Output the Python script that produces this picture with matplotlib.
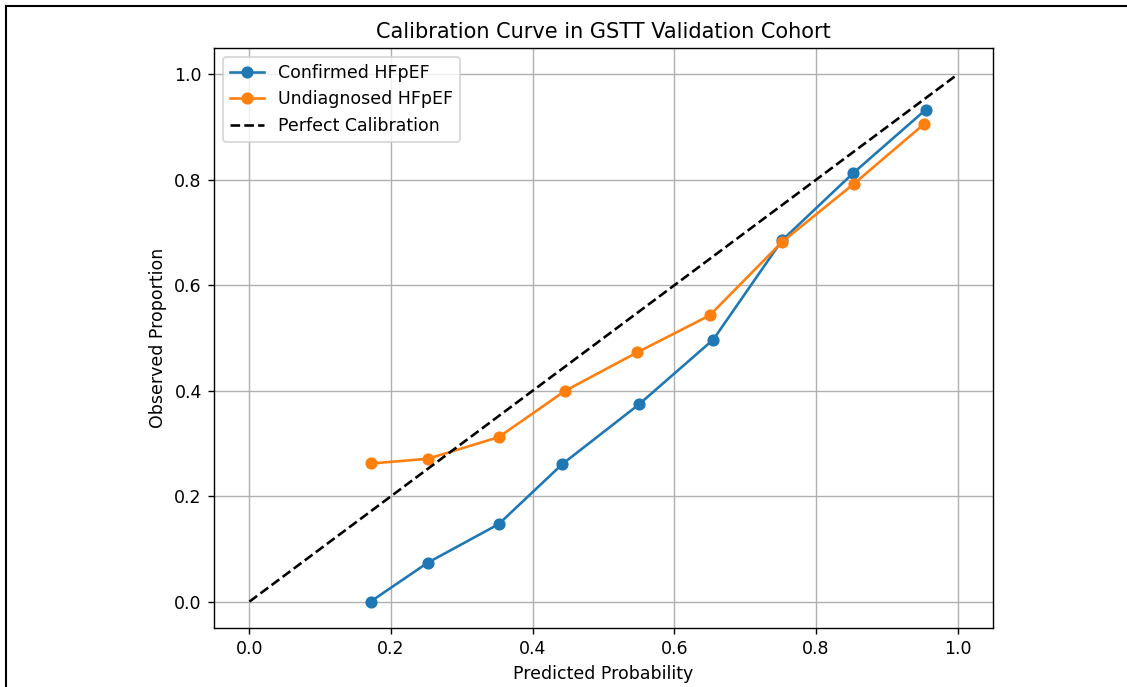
import matplotlib
matplotlib.use("Agg")
import matplotlib.pyplot as plt
from matplotlib.lines import Line2D

confirmed_x = [0.171, 0.252, 0.352, 0.442, 0.550, 0.655, 0.752, 0.852, 0.955]
confirmed_y = [0.000, 0.074, 0.147, 0.261, 0.374, 0.497, 0.685, 0.812, 0.933]
undiag_x = [0.172, 0.252, 0.352, 0.446, 0.548, 0.650, 0.752, 0.854, 0.952]
undiag_y = [0.262, 0.271, 0.312, 0.400, 0.473, 0.543, 0.682, 0.793, 0.905]
perfect = [0.0, 1.0]

DPI = 125
fig = plt.figure(figsize=(1127 / DPI, 687 / DPI), dpi=DPI)
ax = fig.add_axes([214 / 1127, 1 - 628 / 687, (993 - 214) / 1127, (628 - 48) / 687])

ax.plot(confirmed_x, confirmed_y, marker='o', label='Confirmed HFpEF')
ax.plot(undiag_x, undiag_y, marker='o', label='Undiagnosed HFpEF')
ax.plot(perfect, perfect, 'k--', label='Perfect Calibration')

ax.set_xlabel('Predicted Probability')
ax.set_ylabel('Observed Proportion')
ax.set_title('Calibration Curve in GSTT Validation Cohort')
ax.legend(loc='upper left')
ax.grid(True)

# screenshot border (left and top)
fig.add_artist(Line2D([6 / 1127, 6 / 1127], [0, 1 - 6 / 687], color='black', lw=1.2, transform=fig.transFigure))
fig.add_artist(Line2D([6 / 1127, 1], [1 - 6 / 687, 1 - 6 / 687], color='black', lw=1.2, transform=fig.transFigure))

fig.savefig('out.png', dpi=DPI)
